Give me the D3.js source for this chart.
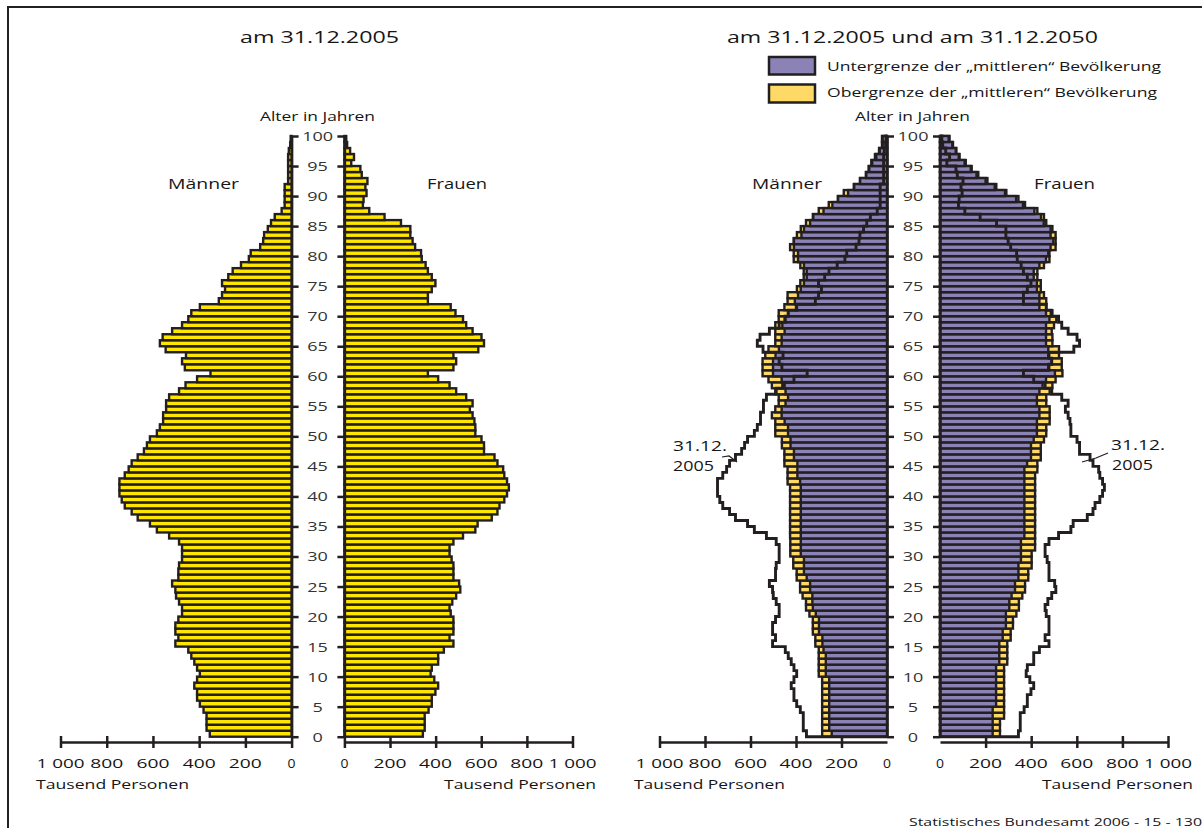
<!DOCTYPE html>
<html>
<head>
<meta charset="utf-8">
<script src="https://cdn.jsdelivr.net/npm/d3@7"></script>
<style>
  body { margin: 0; background: #fff; }
  text { font-family: "Open Sans", "DejaVu Sans", sans-serif; fill: #161616; }
</style>
</head>
<body>
<div id="chart"></div>
<script>
// Bevölkerung nach Alter, Tausend Personen, Index = Alter 0..99
var maleN2005 = [354,368,368,368,381,397,409,409,421,409, 397,409,421,434,447,503,490,503,503,490,
  474,474,487,500,503,517,490,490,487,474, 474,474,487,530,583,613,666,692,722,735,
  745,745,745,722,705,692,666,639,626,613, 583,570,556,556,543,543,530,487,459,409,
  351,462,474,457,545,570,558,517,474,447, 434,397,315,301,288,301,274,255,219,185,
  177,136,123,119,103,89,73,43,30,30, 30,30,15,15,15,15,15,12,6,4];
var femN2005 = [344,352,352,352,369,383,383,399,411,394, 378,383,411,411,436,478,461,478,478,478,
  466,461,473,490,508,503,478,478,478,470, 461,461,478,520,574,584,646,671,680,701,
  713,721,713,701,696,671,658,612,612,601, 574,574,570,562,550,562,534,490,461,411,
  366,478,490,478,587,612,601,562,534,520, 487,466,366,366,383,399,383,366,356,339,
  336,310,299,289,289,248,176,109,81,84, 97,92,101,76,70,30,42,25,12,8];

// 2050: Untergrenze / Obergrenze der "mittleren" Bevölkerung
var maleLow2050 = [243,254,254,254,254,254,254,254,254,254, 269,269,269,269,279,284,284,299,299,299,
  313,326,328,328,338,338,353,365,365,365, 379,379,379,379,379,379,379,379,379,379,
  379,379,382,394,394,394,409,409,424,424, 435,435,450,463,463,446,435,446,450,463,
  501,501,501,490,475,463,463,450,460,450, 435,400,405,391,379,365,353,353,365,391,
  391,409,409,376,365,338,324,279,240,215, 171,144,118,91,78,65,47,32,19,19];
var maleHigh2050 = [285,285,285,285,285,285,285,285,285,285, 300,300,300,300,300,315,315,326,326,326,
  341,356,356,371,382,382,397,397,412,412, 425,425,425,426,426,426,426,426,426,426,
  426,426,437,437,437,451,451,451,462,462, 491,491,491,506,491,476,476,491,506,521,
  547,547,547,535,521,491,491,491,491,476, 476,451,437,437,396,381,366,366,381,410,
  410,426,410,396,379,356,326,300,256,216, 190,146,119,93,81,69,53,35,22,22];
var femLow2050 = [231,231,231,231,231,246,246,246,246,246, 246,246,260,260,260,260,275,275,289,289,
  289,304,304,314,329,329,344,344,344,355, 355,355,355,370,370,370,370,370,370,370,
  370,370,370,370,370,382,399,399,399,411, 425,425,425,436,436,425,425,436,450,465,
  504,475,490,475,475,465,465,465,465,480, 465,436,436,436,425,425,411,411,436,465,
  475,485,497,485,485,455,443,414,364,334, 285,240,200,160,135,108,82,69,54,38];
var femHigh2050 = [263,263,263,281,281,281,281,281,281,281, 281,281,295,295,295,295,310,310,320,320,
  335,346,346,361,373,373,387,387,402,402, 402,417,417,417,417,417,417,417,417,417,
  417,417,417,417,427,427,442,442,442,456, 466,466,481,481,481,466,466,481,493,507,
  537,534,534,522,522,493,493,490,500,510, 493,466,466,456,442,442,427,427,456,480,
  480,507,507,507,493,466,456,427,373,344, 291,247,208,168,139,113,86,72,57,42];

var ageTicks = [0,5,10,15,20,25,30,35,40,45,50,55,60,65,70,75,80,85,90,95,100];
var popTicks = [0,200,400,600,800,1000];
var popTickLabels = ["0","200","400","600","800","1 000"];

var dark = "#231f20";
var svg = d3.select("#chart").append("svg").attr("width", 1202).attr("height", 828);

// frame (runs off the right and bottom edge)
svg.append("rect").attr("x", 8).attr("y", 7).attr("width", 1300).attr("height", 900)
  .attr("fill", "none").attr("stroke", "#222").attr("stroke-width", 2);

var y = d3.scaleLinear().domain([0, 100]).range([736.7, 136]);

// scales for both pyramids
var xLM = d3.scaleLinear().domain([0, 1000]).range([291.6, 60.5]);
var xLF = d3.scaleLinear().domain([0, 1000]).range([344.4, 572.5]);
var xRM = d3.scaleLinear().domain([0, 1000]).range([887, 659.5]);
var xRF = d3.scaleLinear().domain([0, 1000]).range([940, 1168]);

function txt(s, x, yy, size, len, anchor) {
  var t = svg.append("text").text(s).attr("x", x).attr("y", yy)
    .style("font-size", size + "px").attr("text-anchor", anchor || "start");
  if (len) t.attr("textLength", len).attr("lengthAdjust", "spacingAndGlyphs");
  return t;
}

function bars(vals, xs, fill) {
  svg.append("g").selectAll("rect").data(vals).enter().append("rect")
    .attr("x", function (d) { return Math.min(xs(0), xs(d)); })
    .attr("width", function (d) { return Math.abs(xs(d) - xs(0)); })
    .attr("y", function (d, i) { return y(i + 1); })
    .attr("height", function (d, i) { return y(i) - y(i + 1); })
    .attr("fill", fill).attr("stroke", dark).attr("stroke-width", 2.4);
}

function styleAxis(g) {
  g.selectAll("path, line").attr("stroke", dark).attr("stroke-width", 2.5);
  g.selectAll("text").remove();
}

function popAxis(xs, withZero) {
  var vals = withZero ? popTicks : popTicks.slice(1);
  var g = svg.append("g").attr("transform", "translate(0,742)")
    .call(d3.axisBottom(xs).tickValues(vals).tickSize(6).tickSizeOuter(0).tickFormat(""));
  styleAxis(g);
  g.selectAll(".tick line").attr("y1", -6).attr("y2", 6);
  popTicks.forEach(function (v, i) {
    var s = popTickLabels[i];
    var len = s.length === 1 ? 8 : (s.length === 3 ? 33 : 48);
    txt(s, xs(v), 768, 13.5, len, "middle");
  });
}

function ageAxis(xm, xf, cx) {
  var gm = svg.append("g").attr("transform", "translate(" + xm + ",0)")
    .call(d3.axisRight(y).tickValues(ageTicks).tickSize(7).tickSizeOuter(0).tickFormat(""));
  styleAxis(gm);
  var gf = svg.append("g").attr("transform", "translate(" + xf + ",0)")
    .call(d3.axisLeft(y).tickValues(ageTicks).tickSize(7).tickSizeOuter(0).tickFormat(""));
  styleAxis(gf);
  ageTicks.forEach(function (a) {
    var s = String(a);
    txt(s, cx, y(a) + 5, 13, s.length * 10.3, "middle").style("fill", "#333");
  });
}

// ---- left pyramid: 31.12.2005
bars(maleN2005, xLM, "#ffe600");
bars(femN2005, xLF, "#ffe600");
ageAxis(xLM(0), xLF(0), 317.6);
popAxis(xLM, true);
popAxis(xLF, true);

// ---- right pyramid: 2050 with 2005 outline
bars(maleHigh2050, xRM, "#ffd966");
bars(femHigh2050, xRF, "#ffd966");
bars(maleLow2050, xRM, "#8b82b6");
bars(femLow2050, xRF, "#8b82b6");

function outline(vals, xs) {
  var pts = [{ v: 0, a: 0 }];
  vals.forEach(function (v, i) { pts.push({ v: v, a: i }); });
  pts.push({ v: vals[vals.length - 1], a: 100 });
  pts.push({ v: 0, a: 100 });
  var line = d3.line().x(function (d) { return xs(d.v); }).y(function (d) { return y(d.a); })
    .curve(d3.curveStepBefore);
  svg.append("path").attr("d", line(pts)).attr("fill", "none")
    .attr("stroke", dark).attr("stroke-width", 2.9);
}
outline(maleN2005, xRM);
outline(femN2005, xRF);

ageAxis(xRM(0), xRF(0), 913);
popAxis(xRM, false);
popAxis(xRF, false);

// titles and labels
txt("am 31.12.2005", 240, 43, 17, 159);
txt("am 31.12.2005 und am 31.12.2050", 727, 43, 17, 371);
txt("Alter in Jahren", 260, 121, 13, 115);
txt("Alter in Jahren", 855, 121, 13, 115);
txt("Männer", 168, 189, 15, 71);
txt("Frauen", 427, 189, 15, 60);
txt("Männer", 752, 189, 15, 70);
txt("Frauen", 1034, 189, 15, 61);
txt("Tausend Personen", 36, 789, 13.5, 153);
txt("Tausend Personen", 596, 789, 13.5, 152, "end");
txt("Tausend Personen", 634, 789, 13.5, 151);
txt("Tausend Personen", 1193, 789, 13.5, 151, "end");

// legend
svg.append("rect").attr("x", 769).attr("y", 57).attr("width", 46).attr("height", 17.5)
  .attr("fill", "#8b82b6").attr("stroke", dark).attr("stroke-width", 2.5);
svg.append("rect").attr("x", 769).attr("y", 84.5).attr("width", 46).attr("height", 18)
  .attr("fill", "#ffd966").attr("stroke", dark).attr("stroke-width", 2.5);
txt("Untergrenze der \u201Emittleren\u201C Bevölkerung", 827, 71, 12.5, 334);
txt("Obergrenze der \u201Emittleren\u201C Bevölkerung", 827, 97, 12.5, 330);

// 2005 annotations
txt("31.12.", 673, 451, 14, 54);
txt("2005", 673, 471, 14, 41);
svg.append("path").attr("d", "M722,457 L729,456 L737,462").attr("fill", "none")
  .attr("stroke", dark).attr("stroke-width", 1.2);
txt("31.12.", 1111, 450, 14, 54);
txt("2005", 1112, 470, 14, 41);
svg.append("path").attr("d", "M1082,462 L1096,458 L1108,453").attr("fill", "none")
  .attr("stroke", dark).attr("stroke-width", 1.2);

txt("Statistisches Bundesamt 2006 - 15 - 130", 909, 826, 11, 293);
</script>
</body>
</html>
